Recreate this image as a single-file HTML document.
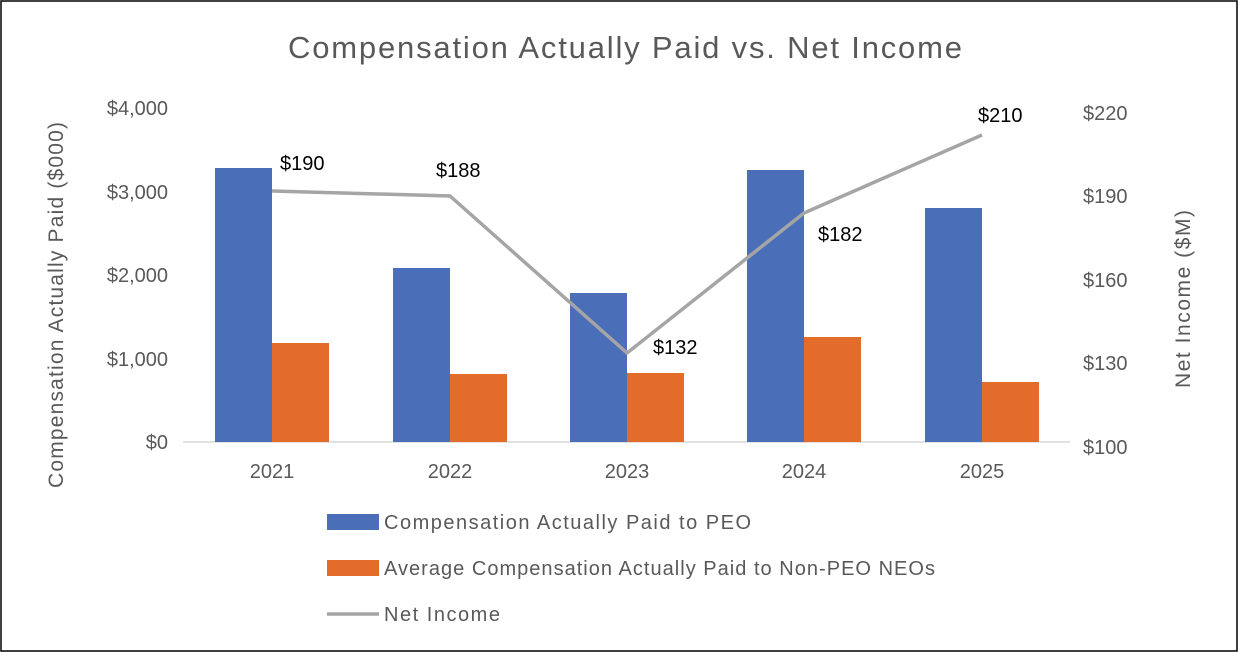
<!DOCTYPE html>
<html><head><meta charset="utf-8"><style>
html,body{margin:0;padding:0;background:#fff;}
svg{display:block;}
text{font-family:"Liberation Sans","DejaVu Sans",sans-serif;}
</style></head><body>
<svg width="1238" height="652" xmlns="http://www.w3.org/2000/svg">
<rect x="1" y="1" width="1236" height="650" fill="#fff" stroke="#000" stroke-width="1.5"/>
<text x="288" y="58" font-size="31" fill="#595959" textLength="674" lengthAdjust="spacing">Compensation Actually Paid vs. Net Income</text>
<g font-size="20" fill="#595959" text-anchor="end">
<text x="168" y="115">$4,000</text>
<text x="168" y="199">$3,000</text>
<text x="168" y="282">$2,000</text>
<text x="168" y="366">$1,000</text>
<text x="168" y="449">$0</text>
</g>
<g font-size="20" fill="#595959" text-anchor="start">
<text x="1083" y="120">$220</text>
<text x="1083" y="203">$190</text>
<text x="1083" y="287">$160</text>
<text x="1083" y="370">$130</text>
<text x="1083" y="454">$100</text>
</g>
<text transform="translate(63,488) rotate(-90)" font-size="21" fill="#595959" textLength="366" lengthAdjust="spacing">Compensation Actually Paid ($000)</text>
<text transform="translate(1190,388) rotate(-90)" font-size="21" fill="#595959" textLength="178" lengthAdjust="spacing">Net Income ($M)</text>
<line x1="183" y1="442" x2="1070" y2="442" stroke="#d9d9d9" stroke-width="1.5"/>
<g fill="#4a6fb8">
<rect x="215" y="168" width="57" height="274"/>
<rect x="393" y="268" width="57" height="174"/>
<rect x="570" y="293" width="57" height="149"/>
<rect x="747" y="170" width="57" height="272"/>
<rect x="925" y="208" width="57" height="234"/>
</g>
<g fill="#e46c2a">
<rect x="272" y="343" width="57" height="99"/>
<rect x="450" y="374" width="57" height="68"/>
<rect x="627" y="373" width="57" height="69"/>
<rect x="804" y="337" width="57" height="105"/>
<rect x="982" y="382" width="57" height="60"/>
</g>
<polyline points="272,191 450,196 627,353 804,213 982,135" fill="none" stroke="#a5a5a5" stroke-width="3.5"/>
<g font-size="20" fill="#000">
<text x="280" y="170">$190</text>
<text x="436" y="177">$188</text>
<text x="653" y="354">$132</text>
<text x="818" y="241">$182</text>
<text x="978" y="122">$210</text>
</g>
<g font-size="20" fill="#595959" text-anchor="middle">
<text x="272" y="478">2021</text>
<text x="450" y="478">2022</text>
<text x="627" y="478">2023</text>
<text x="804" y="478">2024</text>
<text x="982" y="478">2025</text>
</g>
<rect x="327" y="514" width="52" height="16" fill="#4a6fb8"/>
<text x="384" y="529" font-size="20" fill="#595959" textLength="367" lengthAdjust="spacing">Compensation Actually Paid to PEO</text>
<rect x="327" y="560" width="52" height="16" fill="#e46c2a"/>
<text x="384" y="575" font-size="20" fill="#595959" textLength="551" lengthAdjust="spacing">Average Compensation Actually Paid to Non-PEO NEOs</text>
<line x1="327" y1="614" x2="379" y2="614" stroke="#a5a5a5" stroke-width="3.5"/>
<text x="384" y="621" font-size="20" fill="#595959" textLength="116" lengthAdjust="spacing">Net Income</text>
</svg>
</body></html>
